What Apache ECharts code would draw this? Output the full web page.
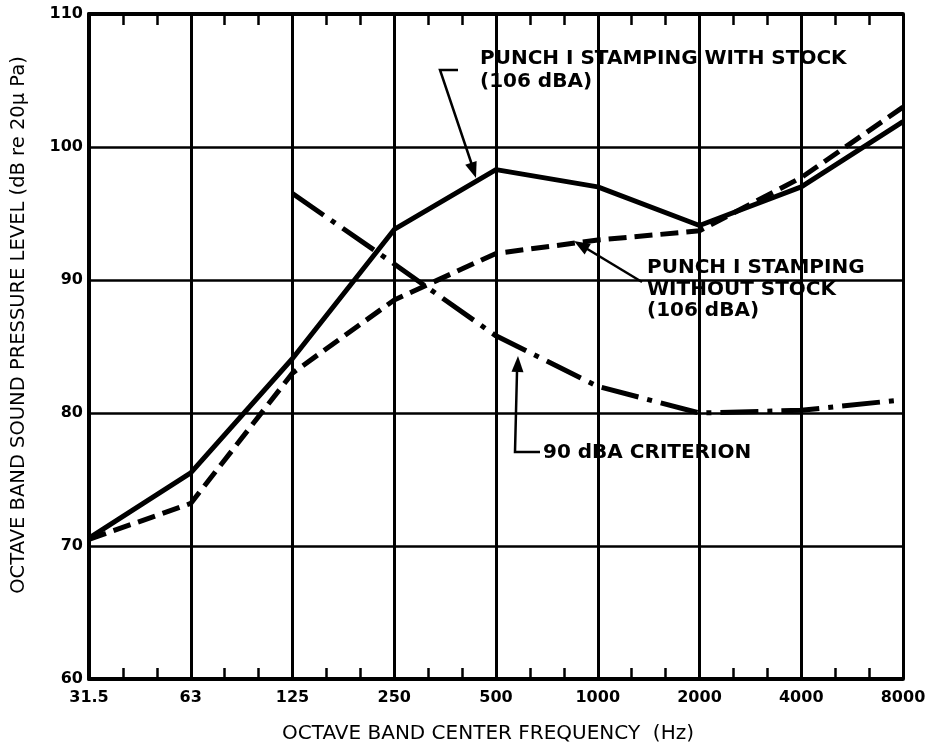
<!DOCTYPE html>
<html>
<head>
<meta charset="utf-8">
<script src="https://cdn.jsdelivr.net/npm/echarts@6/dist/echarts.min.js"></script>
<style>html,body{margin:0;padding:0;background:#fff}#c{width:930px;height:745px}</style>
</head>
<body>
<div id="c"></div>
<script>
const categories = ['31.5','63','125','250','500','1000','2000','4000','8000'];
const withStock    = [70.6, 75.5, 84.1, 93.8, 98.3, 97.0, 94.1, 97.0, 101.9];
const withoutStock = [70.5, 73.2, 83.0, 88.5, 92.0, 93.0, 93.7, 97.7, 103.0];
const criterion    = [null, null, 96.5, 91.2, 85.8, 82.0, 80.0, 80.2, 81.0];
const yTicks = [60, 70, 80, 90, 100, 110];

const FONT = 'DejaVu Sans';
function pairs(arr){ const out=[]; arr.forEach((v,i)=>{ if(v!==null) out.push([i,v]); }); return out; }

const chart = echarts.init(document.getElementById('c'), null, {renderer:'canvas'});
const xAxisBase = {
  type:'value', min:0, max:categories.length-1, interval:1,
  axisLine:{show:true, onZero:false, lineStyle:{color:'#000', width:4}},
  axisTick:{show:false, inside:true},
  minorTick:{show:true, splitNumber:3, length:11, lineStyle:{color:'#000', width:2.5}},
  splitLine:{show:false}
};
const option = {
  animation:false,
  backgroundColor:'#fff',
  grid:{left:89, right:27, top:14, bottom:66, show:false},
  xAxis:[
    Object.assign({}, xAxisBase, {
      position:'bottom',
      axisLabel:{show:true, margin:11, color:'#000', fontFamily:FONT, fontWeight:'bold', fontSize:16,
        formatter:v=>categories[v] ?? ''},
      splitLine:{show:true, lineStyle:{color:'#000', width:3}}
    }),
    Object.assign({}, xAxisBase, {
      position:'top', axisLabel:{show:false}
    })
  ],
  yAxis:{
    type:'value', min:60, max:110, interval:10,
    axisLine:{show:true, lineStyle:{color:'#000', width:4}},
    axisTick:{show:false},
    axisLabel:{color:'#000', fontFamily:FONT, fontWeight:'bold', fontSize:16, margin:6,
      formatter:v=> yTicks.includes(v) ? String(v) : ''},
    splitLine:{show:true, lineStyle:{color:'#000', width:2.5}}
  },
  series:[
    {name:'PUNCH Ⅰ STAMPING WITH STOCK', type:'line', data:pairs(withStock), symbol:'none',
      lineStyle:{color:'#000', width:5, type:'solid'}, z:5},
    {name:'PUNCH Ⅰ STAMPING WITHOUT STOCK', type:'line', data:pairs(withoutStock), symbol:'none',
      lineStyle:{color:'#000', width:5, type:[18,8]}, z:5},
    {name:'90 dBA CRITERION', type:'line', data:pairs(criterion), symbol:'none',
      lineStyle:{color:'#000', width:5, type:[38,9,5,9]}, z:5}
  ]
};
chart.setOption(option);

function arrowHead(tip, from, len, half){
  const dx=tip[0]-from[0], dy=tip[1]-from[1], d=Math.hypot(dx,dy);
  const ux=dx/d, uy=dy/d;
  const bx=tip[0]-ux*len, by=tip[1]-uy*len;
  return {type:'polygon', shape:{points:[tip,[bx-uy*half, by+ux*half],[bx+uy*half, by-ux*half]]},
    style:{fill:'#000'}, z:20};
}
const ls = {stroke:'#000', lineWidth:2.5};
const txt = (x,y,t,size,weight)=>({type:'text', x, y, style:{text:t, fill:'#000',
  font:`${weight||'bold'} ${size||20}px "${FONT}"`, textVerticalAlign:'middle'}, z:20});
chart.setOption({graphic:[
  // axis titles
  {type:'text', x:488, y:734, style:{text:'OCTAVE BAND CENTER FREQUENCY  (Hz)', fill:'#000',
    font:`20px "${FONT}"`, textAlign:'center', textVerticalAlign:'middle'}, z:20},
  {type:'text', x:19, y:325, rotation:Math.PI/2, style:{text:'OCTAVE BAND SOUND PRESSURE LEVEL (dB re 20μ Pa)', fill:'#000',
    font:`19.5px "${FONT}"`, textAlign:'center', textVerticalAlign:'middle'}, z:20},
  // annotation 1
  {type:'polyline', shape:{points:[[458,70],[440,70],[473,168]]}, style:ls, z:20},
  arrowHead([476,178],[440,70],16,6),
  txt(480,59,'PUNCH Ⅰ STAMPING WITH STOCK'),
  txt(480,82,'(106 dBA)'),
  // annotation 2
  {type:'line', shape:{x1:642,y1:282,x2:584,y2:247}, style:ls, z:20},
  arrowHead([574,241],[642,282],16,6),
  txt(647,268,'PUNCH Ⅰ STAMPING'),
  txt(647,290,'WITHOUT STOCK'),
  txt(647,311,'(106 dBA)'),
  // annotation 3
  {type:'polyline', shape:{points:[[540,452],[515,452],[517,372]]}, style:ls, z:20},
  arrowHead([518,356],[515,452],16,6),
  txt(543,453,'90 dBA CRITERION')
]});
</script>
</body>
</html>
